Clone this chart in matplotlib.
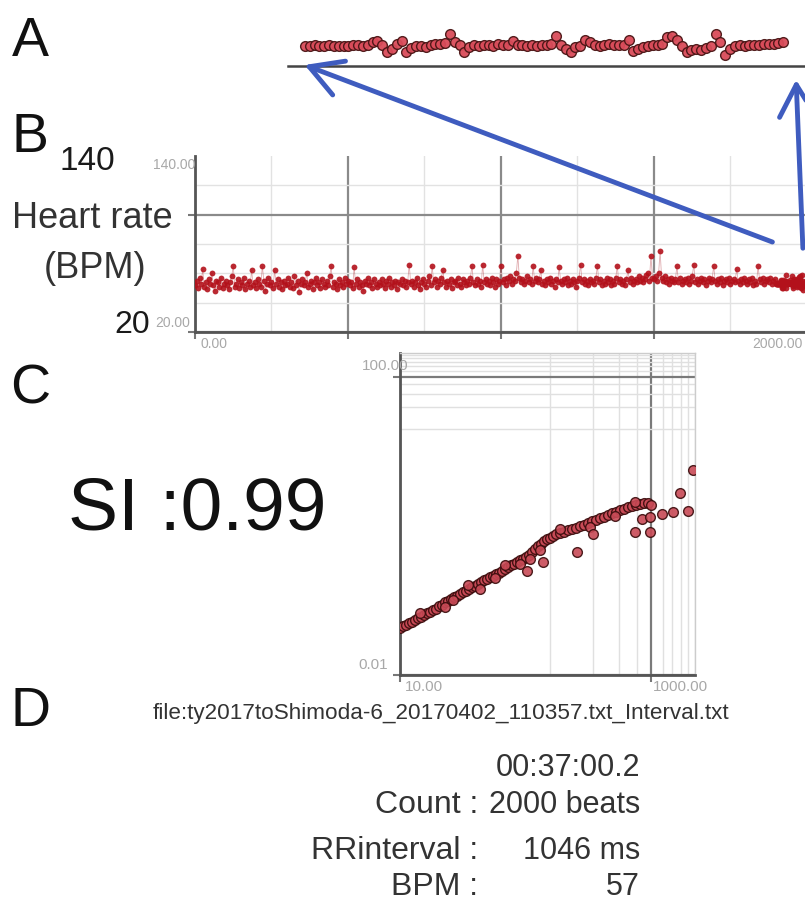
import matplotlib
matplotlib.use("Agg")
import matplotlib.pyplot as plt
import numpy as np
from matplotlib.patches import FancyArrowPatch

plt.rcParams['font.family'] = ['Liberation Sans', 'DejaVu Sans']

# A: last 100 beats of the record (BPM), beats 1900-1999
last_beats_bpm = [
    53.0, 52.8, 53.2, 52.9, 53.0, 53.3, 52.7, 53.1, 53.0, 52.8,
    53.2, 53.5, 53.0, 53.6, 54.7, 55.5, 53.5, 49.7, 51.5, 53.8,
    55.5, 50.0, 52.0, 53.0, 53.0, 52.6, 53.3, 53.8, 54.0, 54.5,
    59.0, 55.0, 53.5, 50.0, 52.5, 53.2, 52.9, 53.4, 53.6, 53.1,
    53.8, 53.3, 53.6, 55.5, 53.5, 53.2, 53.0, 53.4, 53.1, 53.3,
    53.5, 54.0, 58.0, 53.5, 51.5, 49.7, 52.5, 53.0, 56.0, 55.0,
    53.5, 53.0, 53.4, 54.0, 53.6, 53.2, 53.5, 56.0, 50.5, 51.5,
    52.5, 53.0, 53.3, 53.4, 53.8, 57.5, 58.0, 56.0, 53.0, 50.0,
    51.0, 51.5, 51.0, 52.0, 53.0, 59.0, 55.0, 48.5, 51.5, 53.0,
    53.2, 53.0, 53.4, 53.6, 53.3, 53.8, 54.0, 53.7, 54.2, 54.7,
]

# B: whole record, every 5th beat from 0 to 1895 (BPM)
record_bpm = [
    52, 55, 50, 57, 53, 63, 51, 54, 49, 56, 53, 60, 52, 48, 55, 54, 51, 57, 50, 53,
    55, 52, 49, 54, 58, 65, 51, 53, 56, 50, 54, 52, 57, 49, 53, 55, 51, 62, 52, 54,
    50, 56, 53, 51, 65, 55, 48, 53, 57, 52, 54, 50, 62, 53, 56, 51, 54, 49, 55, 52,
    53, 57, 51, 54, 50, 58, 52, 55, 47, 53, 56, 52, 54, 60, 51, 53, 55, 49, 54, 57,
    52, 54, 50, 56, 53, 51, 55, 52, 58, 65, 51, 54, 53, 49, 56, 52, 54, 51, 57, 53,
    55, 52, 54, 50, 64, 53, 56, 51, 54, 52, 48, 55, 53, 57, 52, 54, 50, 56, 53, 51,
    54, 52, 56, 53, 50, 55, 53, 57, 51, 54, 52, 55, 49, 54, 53, 56, 52, 55, 51, 54,
    66, 53, 55, 51, 54, 57, 52, 49, 54, 56, 53, 51, 55, 58, 52, 65, 54, 56, 51, 55,
    53, 57, 62, 54, 51, 55, 53, 56, 50, 54, 55, 52, 57, 53, 51, 56, 54, 52, 55, 53,
    57, 65, 54, 52, 56, 53, 55, 51, 66, 54, 56, 53, 55, 52, 57, 54, 51, 56, 53, 55,
    65, 54, 56, 52, 57, 55, 58, 53, 56, 55, 60, 72, 57, 54, 56, 53, 55, 58, 54, 56,
    53, 65, 55, 57, 54, 56, 62, 53, 55, 52, 56, 54, 57, 53, 55, 51, 56, 54, 64, 55,
    53, 56, 54, 57, 52, 55, 53, 56, 54, 51, 55, 57, 66, 54, 56, 53, 55, 52, 56, 54,
    55, 53, 57, 65, 54, 56, 52, 55, 53, 57, 54, 56, 52, 55, 53, 57, 65, 54, 56, 53,
    55, 52, 56, 62, 54, 57, 53, 55, 56, 54, 58, 55, 57, 54, 56, 59, 60, 55, 72, 57,
    56, 58, 55, 60, 75, 57, 55, 58, 54, 56, 53, 57, 55, 54, 56, 65, 54, 57, 53, 55,
    56, 54, 57, 53, 55, 58, 66, 54, 56, 53, 55, 57, 54, 56, 52, 55, 57, 54, 56, 65,
    55, 53, 56, 54, 57, 52, 55, 56, 54, 57, 53, 55, 56, 54, 63, 55, 53, 56, 54, 57,
    55, 53, 56, 54, 57, 52, 55, 53, 65, 56, 54, 57, 53, 55, 56, 54, 57, 53, 55, 56,
]

# C: log-log scaling plot
scale_x = [18.6, 19.5, 20.4, 21.4, 22.5, 23.6, 24.7, 25.9, 27.2, 28.5,
           29.9, 31.4, 32.9, 34.5, 36.2, 37.9, 39.8, 41.8, 43.8, 45.9,
           48.2, 50.5, 53.0, 55.6, 58.3, 61.1, 64.1, 67.3, 70.5, 74.0,
           77.6, 81.4, 85.3, 89.5, 93.8, 98.4, 103, 108, 114, 119,
           125, 131, 137, 144, 151, 158, 166, 174, 183, 192,
           201, 211, 221, 236, 251, 268, 285, 304, 324, 345,
           368, 392, 418, 445, 474, 505, 538, 574, 611, 651,
           694, 740, 788, 840, 895, 953, 1000,
           25.5, 37.9, 43.1, 55.0, 84.0, 98.4, 125, 172, 236, 379, 565, 776, 66.2, 147]
scale_y = [0.0428, 0.0455, 0.0469, 0.0499, 0.0514, 0.0547, 0.0582, 0.0601, 0.0638, 0.0679,
           0.0701, 0.0745, 0.0769, 0.0844, 0.0871, 0.0955, 0.0985, 0.105, 0.111, 0.115,
           0.122, 0.130, 0.134, 0.143, 0.152, 0.157, 0.166, 0.177, 0.188, 0.194,
           0.207, 0.213, 0.227, 0.234, 0.249, 0.265, 0.282, 0.300, 0.309, 0.329,
           0.350, 0.361, 0.384, 0.408, 0.448, 0.491, 0.539, 0.573, 0.629, 0.669,
           0.690, 0.734, 0.781, 0.805, 0.830, 0.883, 0.912, 0.940, 1.00, 1.03,
           1.10, 1.17, 1.20, 1.28, 1.32, 1.41, 1.49, 1.54, 1.64, 1.69,
           1.80, 1.85, 1.91, 1.97, 2.04, 2.04, 1.91,
           0.0679, 0.0818, 0.102, 0.161, 0.200, 0.300, 0.309, 0.476, 0.912, 0.970, 1.36, 2.10, 0.143, 0.361]
outlier_x = [140, 180, 309, 398, 867, 985, 776, 985, 1191, 1419, 1796, 1585, 1950]
outlier_y = [0.249, 0.329, 0.448, 0.781, 1.24, 1.32, 0.830, 0.830, 1.45, 1.54, 1.59, 2.77, 5.65]

si_text = "SI :0.99"
file_text = "file:ty2017toShimoda-6_20170402_110357.txt_Interval.txt"
duration = "00:37:00.2"
stat_labels = ["Count :", "RRinterval :", "BPM :"]
stat_values = ["2000 beats", "1046 ms", "57"]

W, H = 805, 904


def box(l, t, r, b):
    return [l / W, 1 - b / H, (r - l) / W, (b - t) / H]


def fpos(x, y):
    return x / W, 1 - y / H


fig = plt.figure(figsize=(W / 100, H / 100), dpi=100)
fig.patch.set_facecolor('white')

dark = '#333333'
light_lab = '#a8a8a8'

# ---- A ----
axA = fig.add_axes(box(288, 20, 805, 67))
beatsA = np.arange(1900, 2000)
axA.plot(beatsA, last_beats_bpm, 'o', ms=7, mfc='#d94c5a', mec='#4a1515', mew=1.0, alpha=0.95)
axA.set_xlim(1896.5, 2003.5)
axA.set_ylim(42.85, 66.35)
for s in ['top', 'right', 'left']:
    axA.spines[s].set_visible(False)
axA.spines['bottom'].set_color('#444444')
axA.spines['bottom'].set_linewidth(1.8)
axA.set_xticks([])
axA.set_yticks([])
axA.patch.set_alpha(0)

# ---- B ----
axB = fig.add_axes(box(195, 157, 805, 333))
beatsB = np.concatenate([np.arange(0, 1900, 5), beatsA])
hrB = record_bpm + last_beats_bpm
axB.plot(beatsB, hrB, '-', color='#a50f18', lw=0.6, alpha=0.35, zorder=3)
axB.plot(beatsB, hrB, 'o', ms=4.2, color='#b3111b', mec='none', alpha=0.9, zorder=3)
axB.set_xlim(0, 1993.5)
axB.set_ylim(20, 140)
axB.set_xticks([0, 500, 1000, 1500])
axB.set_xticks([250, 750, 1250, 1750], minor=True)
axB.set_yticks([20, 100])
axB.set_yticks([40, 60, 80, 120], minor=True)
axB.grid(which='major', color='#8a8a8a', lw=1.6)
axB.grid(which='minor', color='#e2e2e2', lw=1.0)
axB.set_axisbelow(True)
axB.tick_params(which='major', length=5, width=1.5, color='#777777',
                labelleft=False, labelbottom=False)
axB.tick_params(which='minor', length=0)
for s in ['top', 'right']:
    axB.spines[s].set_visible(False)
for s in ['left', 'bottom']:
    axB.spines[s].set_color('#555555')
    axB.spines[s].set_linewidth(2)

ytr = axB.get_yaxis_transform()
xtr = axB.get_xaxis_transform()
axB.annotate("140.00", xy=(0, 140), xycoords=ytr, xytext=(-42, -1), textcoords='offset pixels',
             ha='left', va='top', fontsize=10, color=light_lab)
axB.annotate("20.00", xy=(0, 20), xycoords=ytr, xytext=(-40, 3), textcoords='offset pixels',
             ha='left', va='bottom', fontsize=10, color=light_lab)
axB.annotate("0.00", xy=(0, 0), xycoords=xtr, xytext=(5, -4), textcoords='offset pixels',
             ha='left', va='top', fontsize=10, color=light_lab)
axB.annotate("2000.00", xy=(1, 0), xycoords='axes fraction', xytext=(-2, -4), textcoords='offset pixels',
             ha='right', va='top', fontsize=10, color=light_lab)

# ---- C ----
axC = fig.add_axes(box(400, 354, 695, 676))
axC.set_xscale('log')
axC.set_yscale('log')
axC.plot(scale_x, scale_y, 'o', ms=7, mfc='#c84a56', mec='#3a0c0c', mew=1.0, alpha=0.9, zorder=3)
axC.plot(outlier_x, outlier_y, 'o', ms=7, mfc='#c84a56', mec='#3a0c0c', mew=1.0, alpha=0.9, zorder=3)
axC.set_xlim(18.6, 2010)
axC.set_ylim(0.01, 210)
axC.set_xticks([18.6, 1000])
axC.set_xticks([200, 400, 600, 800, 1200, 1400, 1600, 1800, 2000], minor=True)
axC.set_yticks([0.01, 100])
axC.set_yticks([20, 40, 60, 80, 120, 140, 160, 180, 200], minor=True)
axC.grid(which='major', color='#7a7a7a', lw=1.6)
axC.grid(which='minor', color='#e0e0e0', lw=1.0)
axC.set_axisbelow(True)
axC.tick_params(which='major', length=5, width=1.5, color='#777777',
                labelleft=False, labelbottom=False)
axC.tick_params(which='minor', length=0, labelleft=False, labelbottom=False)
for s in ['top', 'right']:
    axC.spines[s].set_color('#cccccc')
    axC.spines[s].set_linewidth(1)
for s in ['left', 'bottom']:
    axC.spines[s].set_color('#555555')
    axC.spines[s].set_linewidth(2)

ytrC = axC.get_yaxis_transform()
xtrC = axC.get_xaxis_transform()
axC.annotate("100.00", xy=(0, 100), xycoords=ytrC, xytext=(-38, 5), textcoords='offset pixels',
             ha='left', va='bottom', fontsize=11, color=light_lab)
axC.annotate("0.01", xy=(0, 0.01), xycoords=ytrC, xytext=(-42, 4), textcoords='offset pixels',
             ha='left', va='bottom', fontsize=11, color=light_lab)
axC.annotate("10.00", xy=(18.6, 0), xycoords=xtrC, xytext=(5, -4), textcoords='offset pixels',
             ha='left', va='top', fontsize=11, color=light_lab)
axC.annotate("1000.00", xy=(1000, 0), xycoords=xtrC, xytext=(2, -4), textcoords='offset pixels',
             ha='left', va='top', fontsize=11, color=light_lab)

# ---- texts ----
for letter, y in [("A", 42), ("B", 138), ("C", 390), ("D", 712)]:
    fig.text(*fpos(30, y), letter, fontsize=40, ha='center', va='center', color='#111111')

fig.text(*fpos(92, 218), "Heart rate", fontsize=26, ha='center', va='center', color=dark)
fig.text(*fpos(95, 268), "(BPM)", fontsize=26, ha='center', va='center', color=dark)
fig.text(*fpos(115, 162), "140", fontsize=24, ha='right', va='center', color='#1a1a1a')
fig.text(*fpos(150, 325), "20", fontsize=23, ha='right', va='center', color='#1a1a1a')

fig.text(*fpos(68, 510), si_text, fontsize=54, ha='left', va='center', color='#111111')
fig.text(*fpos(153, 713), file_text, fontsize=16.2, ha='left', va='center', color=dark)

fig.text(*fpos(640, 768), duration, fontsize=22, ha='right', va='center', color=dark)
for lab, val, y in zip(stat_labels, stat_values, [805, 851, 887]):
    fig.text(*fpos(478, y), lab, fontsize=23, ha='right', va='center', color=dark)
    fig.text(*fpos(640, y), val, fontsize=22, ha='right', va='center', color=dark)

# ---- arrows linking A to the end of B ----
arrow_color = '#3f5cbf'
for tail, head in [((775, 244), (302, 65)), ((803, 252), (796, 78))]:
    fig.add_artist(FancyArrowPatch(fpos(*tail), fpos(*head), transform=fig.transFigure,
                                   arrowstyle='->,head_length=2.3,head_width=1.3',
                                   mutation_scale=10, lw=3.5, color=arrow_color,
                                   capstyle='round', joinstyle='round'))

fig.savefig("out.png", dpi=100, facecolor='white')
